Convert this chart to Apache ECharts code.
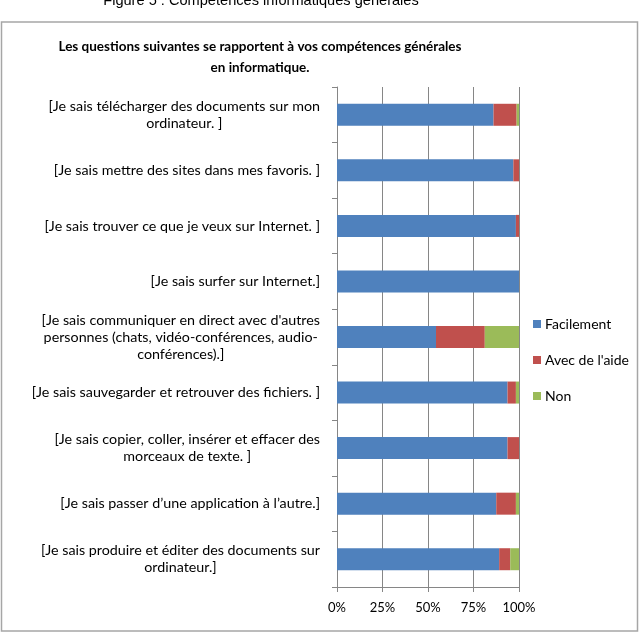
<!DOCTYPE html>
<html>
<head>
<meta charset="utf-8">
<script src="https://cdn.jsdelivr.net/npm/echarts@6/dist/echarts.min.js"></script>
<style>html,body{margin:0;padding:0;background:#fff}#c{width:642px;height:634px}</style>
</head>
<body>
<div id="c"></div>
<script>
// Categories, top to bottom as shown
const categories = [
  "[Je sais télécharger des documents sur mon\nordinateur. ]",
  "[Je sais mettre des sites dans mes favoris. ]",
  "[Je sais trouver ce que je veux sur Internet. ]",
  "[Je sais surfer sur Internet.]",
  "[Je sais communiquer en direct avec d'autres\npersonnes (chats, vidéo-conférences, audio-\nconférences).]",
  "[Je sais sauvegarder et retrouver des fichiers. ]",
  "[Je sais copier, coller, insérer et effacer des\nmorceaux de texte. ]",
  "[Je sais passer d’une application à l’autre.]",
  "[Je sais produire et éditer des documents sur\nordinateur.]"
];
const facilement = [86, 96.9, 98.3, 100, 54.4, 93.7, 93.7, 87.5, 89.1];
const avecAide   = [12.7, 3.1, 1.7, 0, 26.8, 4.6, 6.3, 10.8, 6.1];
const non        = [1.3, 0, 0, 0, 18.8, 1.7, 0, 1.7, 4.8];
const xTicks = [0, 25, 50, 75, 100];
const seriesNames = ["Facilement", "Avec de l'aide", "Non"];
const colors = ["#4F81BD", "#C0504D", "#9BBB59"];
const captionText = "Figure 5 : Compétences informatiques générales";
const titleText = "Les questions suivantes se rapportent à vos compétences générales\nen informatique.";

const FONT = "Lato";
const chart = echarts.init(document.getElementById('c'), null, {renderer: 'canvas'});
const seriesData = [facilement, avecAide, non];

chart.setOption({
  animation: false,
  color: colors,
  graphic: [
    {type: 'rect', shape: {x: 1.5, y: 22, width: 636, height: 609}, style: {fill: 'none', stroke: '#a6a6a6', lineWidth: 1.5}, z: 0},
    {type: 'text', x: 261, y: 8, style: {text: captionText, font: '14.6px "Liberation Sans", Arial', fill: '#000', textAlign: 'center', textVerticalAlign: 'bottom'}},
    {type: 'text', x: 260, y: 57.5, style: {text: titleText, font: 'bold 13.5px ' + FONT, fill: '#000', textAlign: 'center', textVerticalAlign: 'middle', lineHeight: 21}}
  ],
  legend: {
    orient: 'vertical', left: 528, top: 312,
    icon: 'rect', itemWidth: 8, itemHeight: 8, itemGap: 22,
    textStyle: {fontFamily: FONT, fontSize: 14, color: '#000', padding: [0,0,0,-1]},
    data: seriesNames
  },
  grid: {left: 337, right: 123, top: 87, bottom: 47, containLabel: false},
  xAxis: {
    type: 'value', min: xTicks[0], max: xTicks[xTicks.length-1], interval: 25,
    axisLine: {show: true, lineStyle: {color: '#868686'}},
    axisTick: {show: true, length: 5, lineStyle: {color: '#868686'}},
    splitLine: {show: true, lineStyle: {color: '#868686', width: 1}},
    axisLabel: {formatter: '{value}%', fontFamily: FONT, fontSize: 13, color: '#000', margin: 14}
  },
  yAxis: {
    type: 'category', inverse: true, data: categories,
    axisLine: {show: true, lineStyle: {color: '#868686'}},
    axisTick: {show: true, length: 5, alignWithLabel: false, lineStyle: {color: '#868686'}},
    axisLabel: {
      margin: 17, align: 'right',
      formatter: v => v.split('\n').map(l => '{c|' + l + '}').join('\n'),
      rich: {c: {align: 'center', fontFamily: FONT, fontSize: 14.3, color: '#000', lineHeight: 17}}
    }
  },
  series: seriesNames.map((n, i) => ({
    name: n, type: 'bar', stack: 'total', barWidth: 22,
    data: seriesData[i],
    itemStyle: {color: colors[i]}
  }))
});
</script>
</body>
</html>
